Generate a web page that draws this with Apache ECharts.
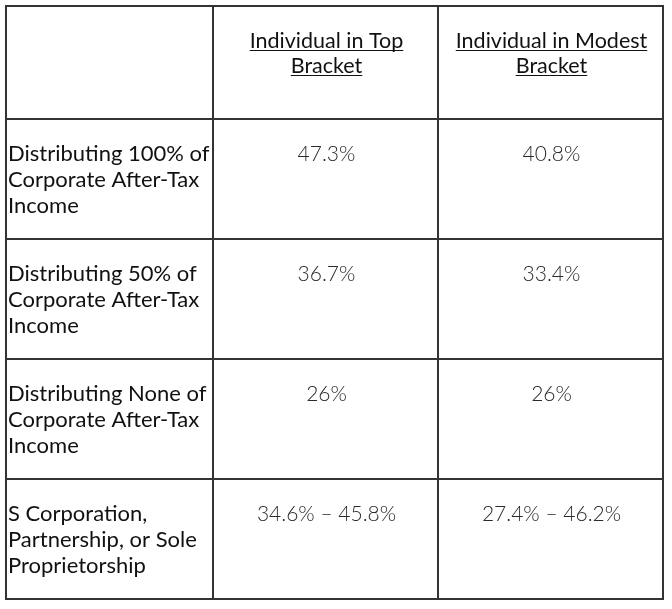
<!DOCTYPE html>
<html>
<head>
<meta charset="utf-8">
<script src="https://cdn.jsdelivr.net/npm/echarts@6/dist/echarts.min.js"></script>
<style>
  html, body { margin: 0; padding: 0; background: #fff; }
  #chart { width: 672px; height: 609px; }
</style>
</head>
<body>
<div id="chart"></div>
<script>
// ---- data ----
const columnHeaders = ['Individual in Top\nBracket', 'Individual in Modest\nBracket'];
const rowLabels = [
  'Distributing 100% of\nCorporate After-Tax\nIncome',
  'Distributing 50% of\nCorporate After-Tax\nIncome',
  'Distributing None of\nCorporate After-Tax\nIncome',
  'S Corporation,\nPartnership, or Sole\nProprietorship'
];
const topBracket = ['47.3%', '36.7%', '26%', '34.6% \u2013 45.8%'];
const modestBracket = ['40.8%', '33.4%', '26%', '27.4% \u2013 46.2%'];

// ---- layout ----
const COL_W = [207, 225, 225];
const ROW_H = [113, 120, 120, 120, 120];
const sum = a => a.reduce((s, v) => s + v, 0);
const colEdge = i => sum(COL_W.slice(0, i));
const rowEdge = i => sum(ROW_H.slice(0, i));

const HEADER_FONT = '21.5px Lato';
const LABEL_FONT = '22px Lato';
const VALUE_FONT = '300 21px Lato';
const HEADER_LINE_H = 25;
const LINE_H = 26;

const measureCtx = document.createElement('canvas').getContext('2d');
function textWidth(t, font) { measureCtx.font = font; return measureCtx.measureText(t).width; }

function cellText(c, r) {
  if (r === 0) return c === 0 ? '' : columnHeaders[c - 1];
  if (c === 0) return rowLabels[r - 1];
  return c === 1 ? topBracket[r - 1] : modestBracket[r - 1];
}

const cells = [];
for (let r = 0; r < ROW_H.length; r++) {
  for (let c = 0; c < COL_W.length; c++) cells.push([c, r]);
}

function renderItem(params, api) {
  const c = api.value(0), r = api.value(1);
  const p0 = api.coord([colEdge(c), rowEdge(r)]);
  const p1 = api.coord([colEdge(c + 1), rowEdge(r + 1)]);
  const children = [{
    type: 'rect',
    shape: { x: p0[0], y: p0[1], width: p1[0] - p0[0], height: p1[1] - p0[1] },
    style: { fill: null, stroke: '#333', lineWidth: 2 }
  }];
  const txt = cellText(c, r);
  if (txt) {
    const lines = txt.split('\n');
    let font, fill, align, x, firstY, lh = LINE_H;
    if (r === 0) {
      font = HEADER_FONT; fill = '#111'; align = 'center'; x = (p0[0] + p1[0]) / 2 + 1; firstY = p0[1] + 35; lh = HEADER_LINE_H;
    } else if (c === 0) {
      font = LABEL_FONT; fill = '#111'; align = 'left'; x = p0[0] + 2; firstY = p0[1] + 35;
    } else {
      font = VALUE_FONT; fill = '#2a2a2a'; align = 'center'; x = (p0[0] + p1[0]) / 2 + 1; firstY = p0[1] + 35.5;
    }
    lines.forEach((ln, i) => {
      const y = firstY + i * lh;
      children.push({
        type: 'text',
        style: { text: ln, x: x, y: y, font: font, fill: fill, align: align, verticalAlign: 'middle' }
      });
      if (r === 0) {
        const w = textWidth(ln, font);
        const uy = Math.round(y + 9) + 0.5;
        children.push({
          type: 'line',
          shape: { x1: x - w / 2, y1: uy, x2: x + w / 2, y2: uy },
          style: { stroke: '#111', lineWidth: 1 }
        });
      }
    });
  }
  return { type: 'group', children: children };
}

const chart = echarts.init(document.getElementById('chart'), null, { renderer: 'canvas' });
chart.setOption({
  backgroundColor: '#fff',
  animation: false,
  grid: { left: 6, top: 6, width: sum(COL_W), height: sum(ROW_H) },
  xAxis: { type: 'value', min: 0, max: sum(COL_W), show: false },
  yAxis: { type: 'value', min: 0, max: sum(ROW_H), inverse: true, show: false },
  series: [{
    type: 'custom',
    renderItem: renderItem,
    data: cells,
    encode: { x: 0, y: 1 },
    clip: false
  }]
});
</script>
</body>
</html>
